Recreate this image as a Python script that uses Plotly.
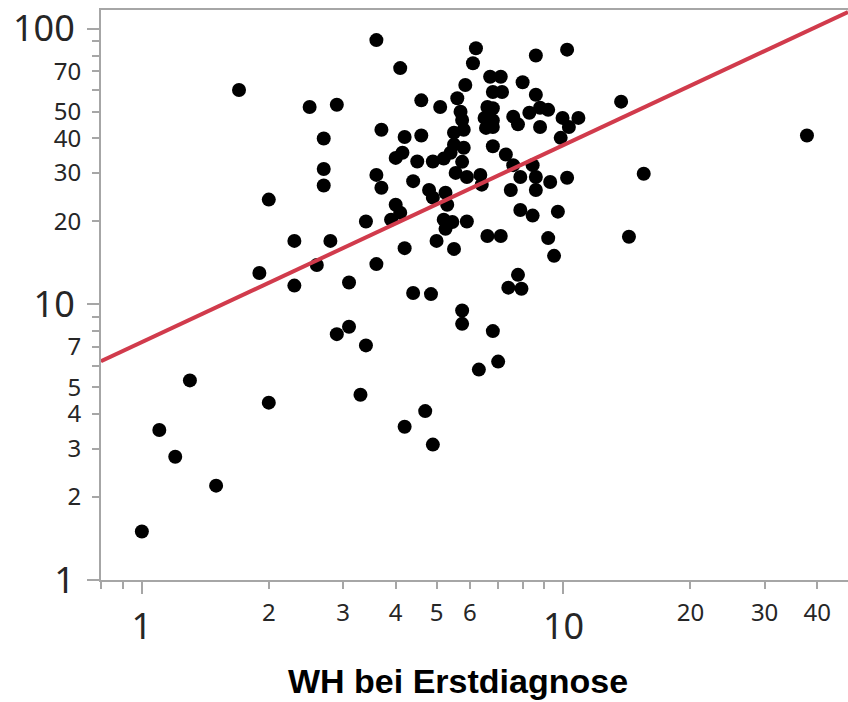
import plotly.graph_objects as go
import math

# ---- data (x: WH bei Erstdiagnose, y: value) ----
wh_x = [1.0, 1.10, 1.20, 1.30, 1.50, 1.70, 1.90, 2.0, 2.0, 2.3,
        2.3, 2.6, 2.5, 2.9, 2.7, 2.7, 2.7, 2.8, 2.9, 3.1,
        3.1, 3.3, 3.4, 3.4, 3.6, 3.6, 3.7, 3.6, 3.7, 3.9,
        4.1, 4.0, 4.0, 4.15, 4.1, 4.2, 4.2, 4.2, 4.4, 4.4,
        4.5, 4.6, 4.6, 4.7, 4.8, 4.9, 4.85, 4.9, 4.9, 5.0,
        5.1, 5.2, 5.25, 5.4, 5.3, 5.2, 5.25, 5.45, 5.5, 5.5,
        5.5, 5.55, 5.6, 5.7, 5.75, 5.8, 5.8, 5.75, 5.75, 5.75,
        5.85, 5.9, 5.9, 6.1, 6.2, 6.3, 6.35, 6.4, 6.6, 6.8,
        6.5, 6.8, 6.55, 6.8, 6.6, 6.7, 7.1, 6.8, 7.15, 6.8,
        6.8, 7.0, 7.1, 7.3, 7.4, 7.5, 7.6, 7.8, 7.6, 7.8,
        7.9, 7.9, 7.95, 8.0, 8.3, 8.45, 8.45, 8.6, 8.6, 8.6,
        8.6, 8.8, 9.2, 8.8, 9.2, 9.5, 9.3, 9.7, 9.85, 9.95,
        10.2, 10.2, 10.3, 10.85, 13.7, 14.3, 15.5, 37.8]
val_y = [1.5, 3.5, 2.8, 5.3, 2.2, 60, 13, 24, 4.4, 17,
         11.7, 13.9, 52, 53, 40, 31, 27, 17, 7.8, 8.3,
         12, 4.7, 7.1, 20, 91, 29.5, 26.5, 14, 43, 20.3,
         21.5, 23, 34, 35.5, 72, 40.5, 16, 3.6, 28, 11,
         33, 55, 41, 4.1, 26, 33, 10.9, 24.4, 3.1, 17,
         52, 33.8, 25.4, 35.5, 23, 20.3, 18.8, 19.9, 15.9, 42,
         38, 30, 56, 50, 46.7, 43, 37, 32.9, 9.5, 8.5,
         62.5, 29, 20, 75, 85, 5.8, 29.5, 27.2, 52, 51.5,
         47.5, 46.5, 43.7, 44, 17.7, 67, 67, 59, 59, 37.5,
         8.0, 6.2, 17.7, 35, 11.5, 26, 48, 45, 32, 12.8,
         29, 22, 11.4, 64, 49.6, 32, 21, 29, 26, 80,
         57.6, 51.7, 50.8, 44, 17.4, 15, 27.8, 21.7, 40.2, 47.5,
         28.8, 84, 44, 47.5, 54.4, 17.6, 29.8, 41]

# regression line (end points)
fit_x = [0.8, 47.3]
fit_y = [6.22, 115]

# axis ticks
x_small_ticks = [2, 3, 4, 5, 6, 20, 30, 40]
x_minor_ticks = [0.8, 0.9, 7, 8, 9]
x_big_ticks = [1, 10]
y_small_ticks = [2, 3, 4, 5, 7, 20, 30, 40, 50, 70]
y_minor_ticks = [6, 8, 9, 60, 80, 90]
y_big_ticks = [1, 10, 100]
x_limits = [0.8, 47.3]
y_limits = [1, 117]

x_title = "WH bei Erstdiagnose"

AX = "#a6a6a6"
LBL = "#262626"
FONT = "Noto Sans"

xr = [math.log10(v) for v in x_limits]
yr = [math.log10(v) for v in y_limits]

fig = go.Figure()
fig.add_trace(go.Scatter(x=wh_x, y=val_y, mode="markers",
                         marker=dict(color="black", size=14, line=dict(width=0)),
                         hoverinfo="skip", showlegend=False))
fig.add_trace(go.Scatter(x=fit_x, y=fit_y, mode="lines",
                         line=dict(color="#d13b4c", width=4),
                         hoverinfo="skip", showlegend=False))
# dummy trace so the overlay axes exist
fig.add_trace(go.Scatter(x=[], y=[], xaxis="x2", yaxis="y2", showlegend=False))

x_main_vals = x_small_ticks + x_minor_ticks
x_main_text = [str(v) for v in x_small_ticks] + ["" for _ in x_minor_ticks]
y_main_vals = y_small_ticks + y_minor_ticks
y_main_text = [str(v) for v in y_small_ticks] + ["" for _ in y_minor_ticks]

fig.update_layout(
    width=848, height=702,
    margin=dict(l=101, r=0, t=10, b=122),
    paper_bgcolor="white", plot_bgcolor="white",
    showlegend=False,
    xaxis=dict(type="log", range=xr, showgrid=False, zeroline=False,
               showline=True, linecolor=AX, linewidth=2, mirror=True,
               tickmode="array", tickvals=x_main_vals, ticktext=x_main_text,
               ticks="outside", ticklen=7, tickwidth=2, tickcolor=AX,
               tickfont=dict(family=FONT, size=24, color=LBL),
               ticklabelstandoff=3),
    xaxis2=dict(type="log", range=xr, overlaying="x", anchor="y", side="bottom",
                showgrid=False, zeroline=False, showline=False,
                tickmode="array", tickvals=x_big_ticks,
                ticktext=[str(v) for v in x_big_ticks],
                ticks="outside", ticklen=13, tickwidth=2, tickcolor=AX,
                tickfont=dict(family=FONT, size=36, color=LBL),
                ticklabelstandoff=2),
    yaxis=dict(type="log", range=yr, showgrid=False, zeroline=False,
               showline=True, linecolor=AX, linewidth=2,
               tickmode="array", tickvals=y_main_vals, ticktext=y_main_text,
               ticks="outside", ticklen=7, tickwidth=2, tickcolor=AX,
               tickfont=dict(family=FONT, size=24, color=LBL),
               ticklabelstandoff=6),
    yaxis2=dict(type="log", range=yr, overlaying="y", anchor="x", side="left",
                showgrid=False, zeroline=False, showline=False,
                tickmode="array", tickvals=y_big_ticks,
                ticktext=[str(v) for v in y_big_ticks],
                ticks="outside", ticklen=13, tickwidth=2, tickcolor=AX,
                tickfont=dict(family=FONT, size=36, color=LBL),
                ticklabelstandoff=5),
    annotations=[dict(text="<b>" + x_title + "</b>", xref="paper", yref="paper",
                      x=0.478, y=-0.178, xanchor="center", yanchor="middle",
                      showarrow=False,
                      font=dict(family="Liberation Sans, Arial", size=34, color="black"))],
)

fig.write_html("out.html")
